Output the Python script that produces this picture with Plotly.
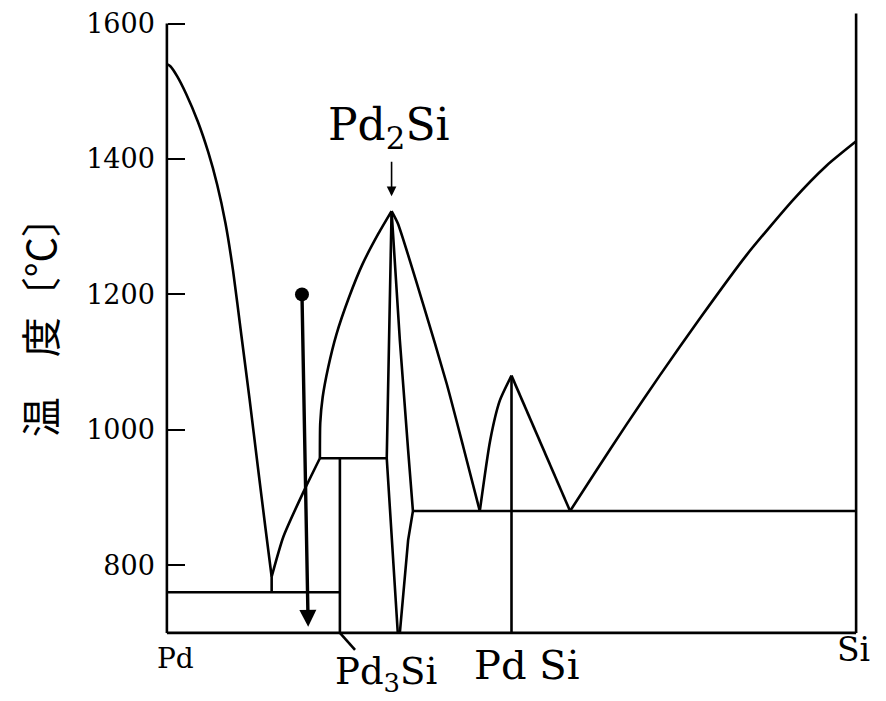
import plotly.graph_objects as go

# ---- data (x: at.% Si, y: temperature in deg C) ----
pd_liq_x = [0, 0.5, 1.5, 2.8, 4.5, 6.0, 7.3, 8.5, 9.6, 10.8, 12.0, 13.2, 14.3, 15.2]
pd_liq_t = [1540, 1537, 1522, 1496, 1455, 1410, 1362, 1305, 1235, 1140, 1045, 945, 855, 783]

rise1_x = [15.2, 16.9, 19.8, 22.2]
rise1_t = [783, 842, 908, 958]

pd2si_left_liq_x = [22.2, 22.25, 22.6, 23.4, 24.6, 26.4, 28.4, 30.7, 32.6]
pd2si_left_liq_t = [958, 1010, 1048, 1092, 1141, 1195, 1245, 1290, 1323]

pd2si_right_liq_x = [32.6, 33.5, 37.2, 40.6, 43.0, 45.4]
pd2si_right_liq_t = [1323, 1305, 1185, 1068, 975, 880]

pdsi_left_liq_x = [45.4, 46.9, 48.3, 50.0]
pdsi_left_liq_t = [880, 984, 1043, 1080]

pdsi_right_liq_x = [50.0, 58.5]
pdsi_right_liq_t = [1080, 880]

si_liq_x = [58.5, 62.0, 66.7, 71.5, 77.3, 84.1, 90.9, 95.7, 100]
si_liq_t = [880, 935, 1008, 1080, 1164, 1258, 1340, 1390, 1426]

pd2si_lb_x = [32.6, 31.9, 31.9, 33.5]
pd2si_lb_t = [1323, 970, 958, 700]
pd2si_rb_x = [32.6, 33.8, 35.0, 35.7, 35.0, 33.8]
pd2si_rb_t = [1323, 1132, 970, 880, 837, 700]

peritectic_x = [22.2, 31.9]
peritectic_t = [958, 958]
pd3si_x = [25.1, 25.1]
pd3si_t = [958, 700]
eut1_x = [0, 25.1]
eut1_t = [760, 760]
stem_x = [15.2, 15.2]
stem_t = [783, 760]
eut2_x = [35.7, 100]
eut2_t = [880, 880]
pdsi_x = [50.0, 50.0]
pdsi_t = [1080, 700]

frame_left_x = [0, 0]
frame_left_t = [700, 1600]
frame_bottom_x = [0, 100]
frame_bottom_t = [700, 700]
frame_right_x = [100, 100]
frame_right_t = [700, 1615]

# cooling arrow
arrow_start = (19.6, 1200)
arrow_end = (20.5, 709)

y_ticks = [800, 1000, 1200, 1400, 1600]
y_ticktext = ["800", "1000", "1200", "1400", "1600"]

# bottom labels: (text, x in data, y in paper, size)
bottom_labels = [
    ("Pd", 1.2, 0.002, 28),
    ("Si", 99.6, 0.016, 33),
    ("Pd Si", 52.2, -0.007, 40),
    ("Pd<sub>3</sub>Si", 31.8, -0.022, 37),
]
top_label = ("Pd<sub>2</sub>Si", 32.2, 1446, 44)
pd2si_arrow = (32.6, 1345)  # arrow tip
pd3si_leader_x = [25.1, 27.3]
pd3si_leader_t = [700, 675]

SERIF = "DejaVu Serif"
LW = 2.6
fig = go.Figure()

curves = [
    (pd_liq_x, pd_liq_t), (rise1_x, rise1_t), (pd2si_left_liq_x, pd2si_left_liq_t),
    (pd2si_right_liq_x, pd2si_right_liq_t), (pdsi_left_liq_x, pdsi_left_liq_t),
    (si_liq_x, si_liq_t),
]
for xs, ts in curves:
    fig.add_trace(go.Scatter(x=xs, y=ts, mode="lines",
                             line=dict(color="black", width=LW, shape="spline", smoothing=0.6),
                             hoverinfo="skip", showlegend=False))

lines = [
    (pdsi_right_liq_x, pdsi_right_liq_t),
    (pd2si_lb_x, pd2si_lb_t), (pd2si_rb_x, pd2si_rb_t),
    (peritectic_x, peritectic_t), (pd3si_x, pd3si_t), (eut1_x, eut1_t),
    (stem_x, stem_t), (eut2_x, eut2_t), (pdsi_x, pdsi_t),
    (frame_left_x, frame_left_t), (frame_bottom_x, frame_bottom_t),
    (frame_right_x, frame_right_t), (pd3si_leader_x, pd3si_leader_t),
]
for xs, ts in lines:
    fig.add_trace(go.Scatter(x=xs, y=ts, mode="lines",
                             line=dict(color="black", width=LW),
                             hoverinfo="skip", showlegend=False))

# cooling arrow dot
fig.add_trace(go.Scatter(x=[arrow_start[0]], y=[arrow_start[1]], mode="markers",
                         marker=dict(color="black", size=14),
                         hoverinfo="skip", showlegend=False))
fig.add_annotation(x=arrow_end[0], y=arrow_end[1], ax=arrow_start[0], ay=arrow_start[1],
                   xref="x", yref="y", axref="x", ayref="y", text="",
                   showarrow=True, arrowhead=2, arrowsize=1.0, arrowwidth=3.4,
                   arrowcolor="black", standoff=0)

for text, x, y, size in bottom_labels:
    fig.add_annotation(x=x, y=y, xref="x", yref="paper", text=text, showarrow=False,
                       xanchor="center", yanchor="middle",
                       font=dict(family=SERIF, size=size, color="black"))

fig.add_annotation(x=top_label[1], y=top_label[2], xref="x", yref="y", text=top_label[0],
                   showarrow=False, font=dict(family=SERIF, size=top_label[3], color="black"))

fig.add_annotation(x=pd2si_arrow[0], y=pd2si_arrow[1], xref="x", yref="y",
                   ax=0, ay=-36, text="", showarrow=True, arrowhead=2,
                   arrowsize=1.2, arrowwidth=1.6, arrowcolor="black", standoff=0)

# y-axis title
fig.add_annotation(x=-0.171, y=0.527, xref="paper", yref="paper",
                   xanchor="center", yanchor="middle",
                   text="温　度〔°C〕", textangle=-90, showarrow=False,
                   font=dict(family="Noto Sans CJK JP", size=40, color="black"))

fig.update_layout(
    width=886, height=701,
    margin=dict(l=160, r=23, t=8, b=41),
    paper_bgcolor="white", plot_bgcolor="white",
    xaxis=dict(range=[-1, 101], showgrid=False, zeroline=False, showline=False,
               showticklabels=False, ticks=""),
    yaxis=dict(range=[660, 1620], showgrid=False, zeroline=False, showline=False,
               tickvals=y_ticks, ticktext=y_ticktext, ticks="inside", ticklen=17,
               tickwidth=2.2, tickcolor="black", anchor="free", position=0.0098,
               ticklabelstandoff=12,
               tickfont=dict(family=SERIF, size=27, color="black")),
    showlegend=False,
)

fig.write_html("out.html")
